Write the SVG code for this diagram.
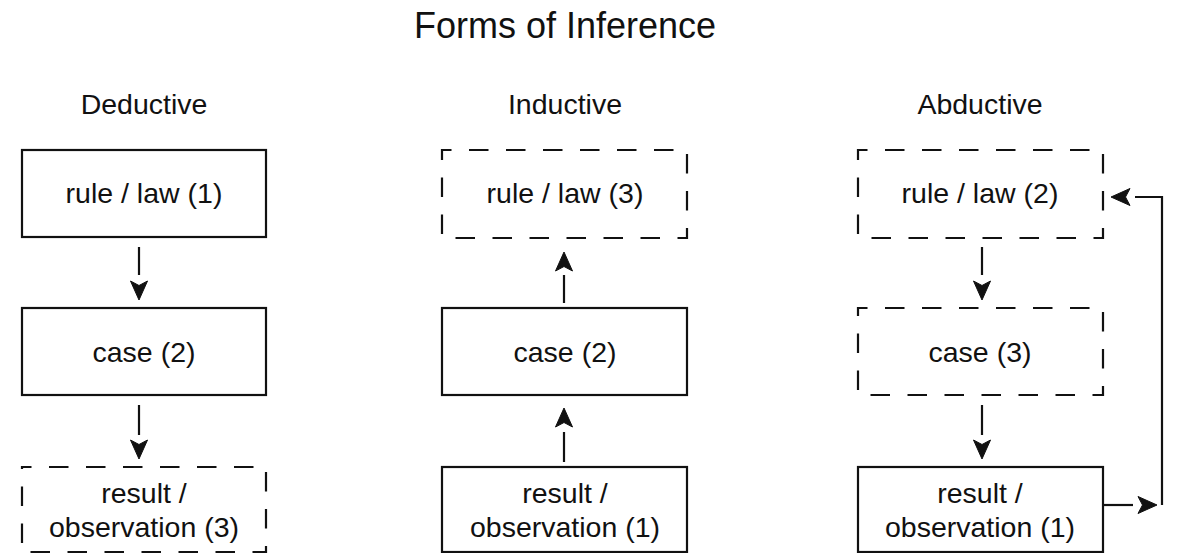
<svg xmlns="http://www.w3.org/2000/svg" xmlns:xlink="http://www.w3.org/1999/xlink" width="1178" height="553" viewBox="0 0 1178 553">
  <style>
    text { font-family: "Liberation Sans", Arial, Helvetica, sans-serif; fill: #111; text-anchor: middle; }
    .title { font-size: 36px; }
    .label { font-size: 28.5px; }
    .node-text { font-size: 28.5px; }
    .box { fill: #fff; stroke: #111; stroke-width: 2.2; }
    .dashed { stroke-dasharray: 19.5 17.5; stroke-dashoffset: 10; }
    .edge { fill: none; stroke: #111; stroke-width: 2.2; }
    .head { fill: #111; stroke: #111; stroke-width: 1; stroke-linejoin: miter; }
  </style>
  <defs>
    <!-- classic notched arrowhead, tip at origin, pointing down -->
    <path id="ah" d="M0,0 L-8.5,-19 L0,-14.5 L8.5,-19 Z"/>
  </defs>

  <rect width="1178" height="553" fill="#fff"/>

  <text class="title" x="565" y="38">Forms of Inference</text>

  <g id="col-labels">
    <text class="label" x="144" y="114">Deductive</text>
    <text class="label" x="565" y="114">Inductive</text>
    <text class="label" x="980" y="114">Abductive</text>
  </g>

  <!-- Deductive column -->
  <g id="ded-rule">
    <rect class="box" x="22" y="150" width="244" height="87"/>
    <text class="node-text" x="144" y="203">rule / law (1)</text>
  </g>
  <g id="ded-case">
    <rect class="box" x="22" y="308" width="244" height="87"/>
    <text class="node-text" x="144" y="362">case (2)</text>
  </g>
  <g id="ded-result">
    <rect class="box dashed" x="22" y="467" width="244" height="85"/>
    <text class="node-text" x="144" y="503">result /</text>
    <text class="node-text" x="144" y="537">observation (3)</text>
  </g>

  <!-- Inductive column -->
  <g id="ind-rule">
    <rect class="box dashed" x="442" y="150" width="245" height="88"/>
    <text class="node-text" x="565" y="203">rule / law (3)</text>
  </g>
  <g id="ind-case">
    <rect class="box" x="442" y="308" width="245" height="87"/>
    <text class="node-text" x="565" y="362">case (2)</text>
  </g>
  <g id="ind-result">
    <rect class="box" x="442" y="467" width="245" height="85"/>
    <text class="node-text" x="565" y="503">result /</text>
    <text class="node-text" x="565" y="537">observation (1)</text>
  </g>

  <!-- Abductive column -->
  <g id="abd-rule">
    <rect class="box dashed" x="858" y="150" width="245" height="88"/>
    <text class="node-text" x="980" y="203">rule / law (2)</text>
  </g>
  <g id="abd-case">
    <rect class="box dashed" x="858" y="308" width="245" height="87"/>
    <text class="node-text" x="980" y="362">case (3)</text>
  </g>
  <g id="abd-result">
    <rect class="box" x="858" y="467" width="245" height="85"/>
    <text class="node-text" x="980" y="503">result /</text>
    <text class="node-text" x="980" y="537">observation (1)</text>
  </g>

  <g id="connectors">
    <!-- Deductive: downward -->
    <path class="edge" d="M139,247 V275"/>
    <use xlink:href="#ah" class="head" transform="translate(139,300)"/>
    <path class="edge" d="M139,405 V435"/>
    <use xlink:href="#ah" class="head" transform="translate(139,459)"/>

    <!-- Inductive: upward -->
    <path class="edge" d="M564,275 V303"/>
    <use xlink:href="#ah" class="head" transform="translate(564,252) rotate(180)"/>
    <path class="edge" d="M564,432 V462"/>
    <use xlink:href="#ah" class="head" transform="translate(564,408) rotate(180)"/>

    <!-- Abductive: downward -->
    <path class="edge" d="M982,247 V275"/>
    <use xlink:href="#ah" class="head" transform="translate(982,300)"/>
    <path class="edge" d="M982,405 V435"/>
    <use xlink:href="#ah" class="head" transform="translate(982,459)"/>

    <!-- Abductive: result back to rule -->
    <path class="edge" d="M1103,505 H1133"/>
    <use xlink:href="#ah" class="head" transform="translate(1157,505) rotate(-90)"/>
    <path class="edge" d="M1162,505 V197 H1135"/>
    <use xlink:href="#ah" class="head" transform="translate(1111,197) rotate(90)"/>
  </g>
</svg>
